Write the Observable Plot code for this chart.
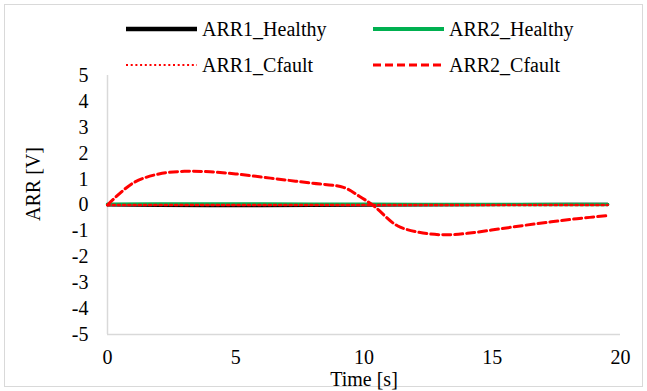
<!DOCTYPE html>
<html>
<head>
<meta charset="utf-8">
<script src="https://cdn.jsdelivr.net/npm/d3@7"></script>
<script src="https://cdn.jsdelivr.net/npm/@observablehq/plot@0.6"></script>
<style>
  html, body { margin: 0; padding: 0; background: #fff; }
  #wrap { position: relative; width: 647px; height: 391px; overflow: hidden; font-family: "Liberation Serif", "Times New Roman", Tinos, "DejaVu Serif", "Noto Serif", serif; }
  #frame { position: absolute; left: 4px; top: 4px; width: 639px; height: 383px; box-sizing: border-box; border: 1px solid #d9d9d9; pointer-events: none; }
  #chart { position: absolute; left: 0; top: 0; }
  .leg { position: absolute; height: 24px; line-height: 24px; font-size: 20px; color: #000; white-space: nowrap; }
  .leg svg { position: absolute; left: 0; top: 7px; }
  .leg span { position: absolute; top: 0; }
</style>
</head>
<body>
<div id="wrap">
  <div id="frame"></div>
  <div id="chart"></div>
  <div id="legend"></div>
</div>
<script>
const FONT = '"Liberation Serif", "Times New Roman", Tinos, "DejaVu Serif", "Noto Serif", serif';

// Series names (legend)
const seriesNames = ["ARR1_Healthy", "ARR2_Healthy", "ARR1_Cfault", "ARR2_Cfault"];

// Healthy / ARR1_Cfault sampling times [s]
const timeBase = [0, 2, 4, 6, 8, 10, 12, 14, 16, 18, 19.5];
const arr1Healthy = [0, -0.02, -0.03, -0.03, -0.02, -0.01, 0, 0.01, 0.02, 0.03, 0.03];
const arr2Healthy = [0.03, 0.04, 0.04, 0.04, 0.03, 0.03, 0.02, 0.02, 0.02, 0.02, 0.02];
const arr1Cfault = [0, 0, 0, 0, 0, 0, 0, 0, 0, 0, 0];

// ARR2_Cfault
const timeC2 = [0, 1, 2, 3, 4, 5, 6, 7, 8, 9.2, 9.8, 10.4, 11.3, 12.3, 13.3, 14.3, 15.3, 16.3, 17.3, 18.3, 19.5];
const arr2Cfault = [0, 0.85, 1.2, 1.3, 1.28, 1.2, 1.08, 0.96, 0.84, 0.68, 0.35, -0.05, -0.8, -1.08, -1.15, -1.06, -0.92, -0.78, -0.65, -0.53, -0.41];

const xTicks = [0, 5, 10, 15, 20];
const yTicks = [-5, -4, -3, -2, -1, 0, 1, 2, 3, 4, 5];

const toRows = (t, v) => t.map((x, i) => ({t: x, v: v[i]}));
const h1 = toRows(timeBase, arr1Healthy);
const h2 = toRows(timeBase, arr2Healthy);
const c1 = toRows(timeBase, arr1Cfault);
const c2 = toRows(timeC2, arr2Cfault);

const styles = {
  "ARR1_Healthy": {stroke: "#000000", dash: null, lw: 4.3, legDash: null},
  "ARR2_Healthy": {stroke: "#00b050", dash: null, lw: 4, legDash: null},
  "ARR1_Cfault": {stroke: "#ff0000", dash: "2.2,3", lw: 2, legDash: "2,2.7"},
  "ARR2_Cfault": {stroke: "#ff0000", dash: "8,4", lw: 3, legDash: "8,4"}
};

const plot = Plot.plot({
  width: 647,
  height: 391,
  marginLeft: 107,
  marginRight: 27,
  marginTop: 75,
  marginBottom: 57,
  style: {fontFamily: FONT, fontSize: "20px", color: "#000", background: "transparent"},
  x: {domain: [0, 20], ticks: xTicks, tickSize: 0, tickPadding: 15, label: null, tickFormat: d => String(d)},
  y: {domain: [-5, 5], ticks: yTicks, tickSize: 0, tickPadding: 19, label: null, tickFormat: d => String(d)},
  marks: [
    Plot.ruleX([0], {stroke: "#d9d9d9", strokeWidth: 1.5}),
    Plot.ruleY([-5], {stroke: "#d9d9d9", strokeWidth: 1.5}),
    Plot.lineY(h1, {x: "t", y: "v", stroke: styles["ARR1_Healthy"].stroke, strokeWidth: 3}),
    Plot.lineY(h2, {x: "t", y: "v", stroke: styles["ARR2_Healthy"].stroke, strokeWidth: 3.5}),
    Plot.lineY(c1, {x: "t", y: "v", stroke: styles["ARR1_Cfault"].stroke, strokeWidth: 2.5, strokeDasharray: styles["ARR1_Cfault"].dash}),
    Plot.lineY(c2, {x: "t", y: "v", stroke: styles["ARR2_Cfault"].stroke, strokeWidth: 3, strokeDasharray: styles["ARR2_Cfault"].dash, curve: "catmull-rom"}),
    Plot.text(["Time [s]"], {frameAnchor: "bottom", textAnchor: "middle", lineAnchor: "middle", dy: 45, fontSize: 20, fill: "#000"}),
    Plot.text(["ARR [V]"], {frameAnchor: "left", textAnchor: "middle", lineAnchor: "middle", dx: -74, dy: -21, rotate: -90, fontSize: 20, fill: "#000"})
  ]
});
document.getElementById("chart").appendChild(plot);

// Legend
const legPos = [
  {left: 126, top: 17},
  {left: 373, top: 17},
  {left: 126, top: 53},
  {left: 373, top: 53}
];
const legend = document.getElementById("legend");
seriesNames.forEach((name, i) => {
  const s = styles[name];
  const div = document.createElement("div");
  div.className = "leg";
  div.style.left = legPos[i].left + "px";
  div.style.top = legPos[i].top + "px";
  const svg = d3.create("svg").attr("width", 71).attr("height", 10);
  svg.append("line").attr("x1", 0).attr("x2", 71).attr("y1", 5).attr("y2", 5)
    .attr("stroke", s.stroke).attr("stroke-width", s.lw)
    .attr("stroke-dasharray", s.legDash);
  div.appendChild(svg.node());
  const span = document.createElement("span");
  span.style.left = "76px";
  span.textContent = name;
  div.appendChild(span);
  legend.appendChild(div);
});
</script>
</body>
</html>
